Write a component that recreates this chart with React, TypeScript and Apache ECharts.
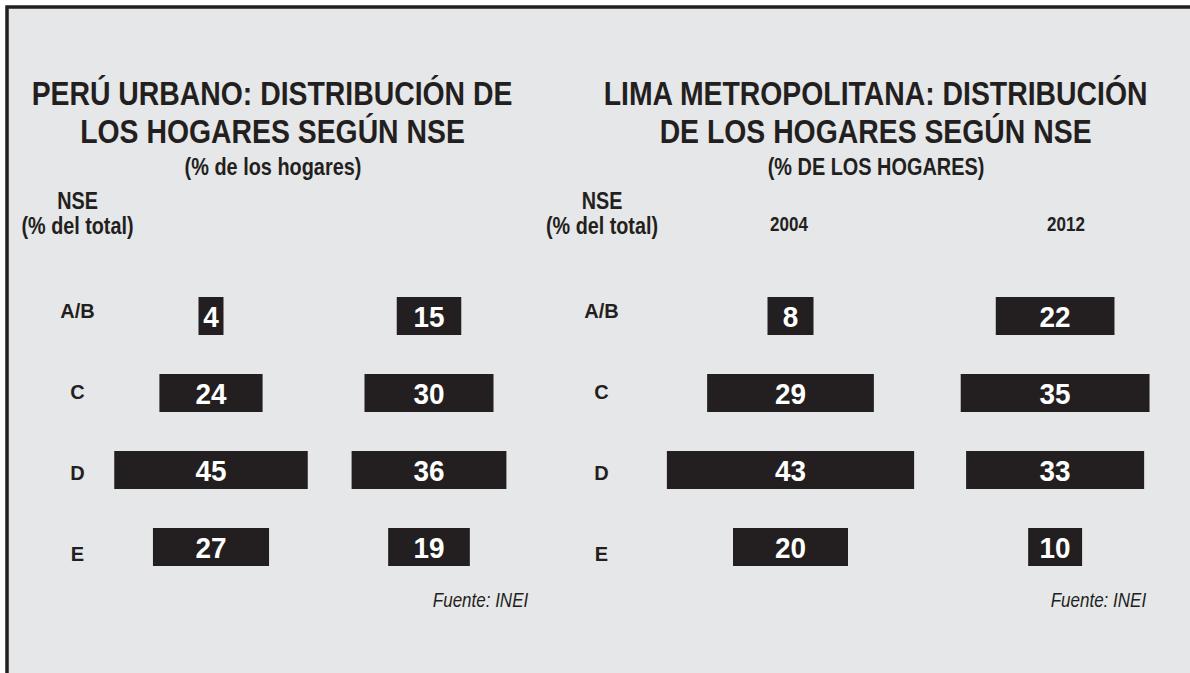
import React, { useEffect, useRef } from "react";
import * as echarts from "echarts";

const categories = ["A/B", "C", "D", "E"];
const peru2004 = [4, 24, 45, 27];
const peru2012 = [15, 30, 36, 19];
const lima2004 = [8, 29, 43, 20];
const lima2012 = [22, 35, 33, 10];
const limaYears = ["2004", "2012"];

const FONT = "'Liberation Sans', Arial, Helvetica, sans-serif";
const INK = "#231f20";
const BG = "#e6e7e8";

function txt(text: string, x: number, y: number, size: number, sx: number, opts: any = {}) {
  const weight = opts.weight || "bold";
  const style = opts.italic ? "italic" : "normal";
  return {
    type: "text",
    x,
    y,
    scaleX: sx,
    style: {
      text,
      fill: INK,
      font: `${style} ${weight} ${size}px ${FONT}`,
      textAlign: "center",
      textVerticalAlign: "middle",
      align: "center",
      verticalAlign: "middle",
    },
  };
}

export default function App() {
  const ref = useRef<HTMLDivElement>(null);

  useEffect(() => {
    if (!ref.current) return;
    const chart = echarts.init(ref.current, undefined, { renderer: "svg" });

    const barCols = [
      { center: 211, ppu: 4.3, data: peru2004 },
      { center: 429, ppu: 4.3, data: peru2012 },
      { center: 790.5, ppu: 5.75, data: lima2004 },
      { center: 1064, ppu: 5.75, data: lima2012 },
    ];
    const M = 25;
    const grids: any[] = [];
    const xAxes: any[] = [];
    const yAxes: any[] = [];
    const series: any[] = [];

    barCols.forEach((c, i) => {
      const w = 2 * M * c.ppu;
      grids.push({ left: c.center - w / 2, width: w, top: 277.5, height: 308 });
      xAxes.push({ type: "value", gridIndex: i, min: -M, max: M, show: false });
      yAxes.push({
        type: "category",
        gridIndex: i,
        data: categories,
        inverse: true,
        show: false,
      });
      series.push({
        type: "custom",
        xAxisIndex: i,
        yAxisIndex: i,
        encode: { x: 0, y: 1 },
        data: c.data.map((v, k) => [v, k]),
        renderItem: (params: any, api: any) => {
          const v = api.value(0);
          const k = api.value(1);
          const p = api.coord([0, k]);
          const wPx = Math.max(api.size([v, 0])[0], 25);
          const h = 38;
          return {
            type: "group",
            children: [
              {
                type: "rect",
                shape: { x: p[0] - wPx / 2, y: p[1] - h / 2, width: wPx, height: h },
                style: { fill: INK },
              },
              {
                type: "text",
                x: p[0],
                y: p[1] + 1,
                scaleX: 0.93,
                style: {
                  text: String(v),
                  fill: "#ffffff",
                  font: `bold 30px ${FONT}`,
                  textAlign: "center",
                  textVerticalAlign: "middle",
                  align: "center",
                  verticalAlign: "middle",
                },
              },
            ],
          };
        },
      });
    });

    const labelCols = [
      { left: 100, margin: 22.5 },
      { left: 630, margin: 28.5 },
    ];
    labelCols.forEach((l, j) => {
      const gi = 4 + j;
      grids.push({ left: l.left, width: 10, top: 270, height: 324.3 });
      xAxes.push({ type: "value", gridIndex: gi, min: 0, max: 1, show: false });
      yAxes.push({
        type: "category",
        gridIndex: gi,
        data: categories,
        inverse: true,
        axisLine: { show: false },
        axisTick: { show: false },
        splitLine: { show: false },
        axisLabel: {
          align: "center",
          margin: l.margin,
          color: INK,
          fontFamily: FONT,
          fontWeight: "bold",
          fontSize: 20,
        },
      });
      series.push({
        type: "scatter",
        xAxisIndex: gi,
        yAxisIndex: gi,
        data: [],
        silent: true,
      });
    });

    chart.setOption({
      animation: false,
      backgroundColor: "#ffffff",
      grid: grids,
      xAxis: xAxes,
      yAxis: yAxes,
      series,
      graphic: [
        {
          type: "rect",
          z: -10,
          shape: { x: 7, y: 7, width: 1200, height: 700 },
          style: { fill: BG, stroke: INK, lineWidth: 3.5 },
          silent: true,
        },
        txt("PERÚ URBANO: DISTRIBUCIÓN DE", 272, 93.5, 33, 0.86),
        txt("LOS HOGARES SEGÚN NSE", 272.5, 131.5, 33, 0.86),
        txt("(% de los hogares)", 273, 168, 23, 0.865),
        txt("LIMA METROPOLITANA: DISTRIBUCIÓN", 875.6, 93.5, 33, 0.86),
        txt("DE LOS HOGARES SEGÚN NSE", 875.6, 131.5, 33, 0.86),
        txt("(% DE LOS HOGARES)", 876, 168, 23, 0.865),
        txt("NSE", 77.5, 201.5, 23, 0.86),
        txt("(% del total)", 77.5, 226, 23, 0.86),
        txt("NSE", 602, 201.5, 23, 0.86),
        txt("(% del total)", 602, 226, 23, 0.86),
        txt(limaYears[0], 789, 224, 20.5, 0.83),
        txt(limaYears[1], 1066, 224, 20.5, 0.83),
        txt("Fuente: INEI", 480.5, 599.5, 21, 0.81, { italic: true, weight: "normal" }),
        txt("Fuente: INEI", 1098.4, 599.5, 21, 0.81, { italic: true, weight: "normal" }),
      ],
    });

    return () => chart.dispose();
  }, []);

  return (
    <div
      ref={ref}
      style={{ position: "fixed", left: 0, top: 0, width: 1190, height: 673 }}
    />
  );
}
